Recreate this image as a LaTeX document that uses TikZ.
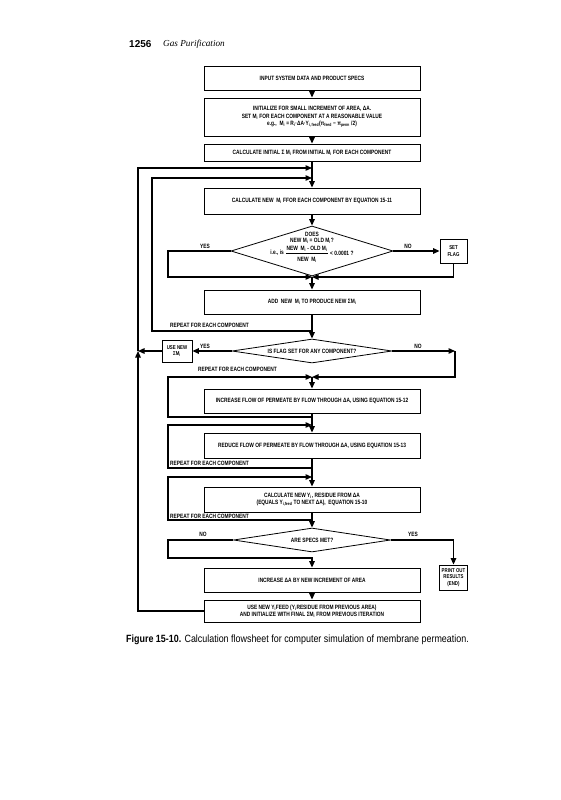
\documentclass[tikz,border=0pt]{standalone}
\usepackage{fontspec}
\setmainfont{Liberation Sans}
\newfontfamily\bxf[FakeStretch=0.78]{Liberation Sans}
\newfontfamily\capf[FakeStretch=0.85]{Liberation Sans}
\newfontfamily\hdserif{Liberation Serif}
\usetikzlibrary{arrows.meta,shapes.geometric}
\newcommand\bxfont{\bxf\bfseries\fontsize{6.2}{7.4}\selectfont}
\newcommand\smfont{\bxf\bfseries\fontsize{5.6}{6.6}\selectfont}
\begin{document}
\begin{tikzpicture}[x=1pt,y=-1pt,
  bx/.style={draw,line width=0.8pt,minimum width=216pt,inner sep=0pt,align=center,font=\bxfont},
  sbox/.style={draw,line width=0.8pt,inner sep=0pt,align=center,font=\smfont},
  dm/.style={draw,diamond,line width=0.8pt,inner sep=0pt},
  tx/.style={inner sep=0pt,font=\bxfont,align=center},
  flow/.style={line width=1.3pt},
  arr/.style={-{Triangle[length=6.5pt,width=5.5pt]}}]
\useasboundingbox (0,0) rectangle (561,800);
% header
\node[anchor=west,inner sep=0pt,font=\bfseries\fontsize{10}{11}\selectfont] (pg) at (129,44) {1256};
\node[anchor=west,inner sep=0pt,font=\hdserif\itshape\fontsize{9.2}{10}\selectfont] (hd) at (163,44) {Gas Purification};
% boxes
\node[bx,minimum height=24pt] (b1) at (312,78) {INPUT SYSTEM DATA AND PRODUCT SPECS};
\node[bx,minimum height=38pt] (b2) at (312,117) {INITIALIZE FOR SMALL INCREMENT OF AREA, ΔA.\\SET M\textsubscript{i} FOR EACH COMPONENT AT A REASONABLE VALUE\\e.g.,\ \ M\textsubscript{i} = R\textsubscript{i}·ΔA·Y\textsubscript{i, feed}(π\textsubscript{feed} − π\textsubscript{perm} /2)};
\node[bx,minimum height=17pt] (b3) at (312,152.5) {CALCULATE INITIAL Σ M\textsubscript{i} FROM INITIAL M\textsubscript{i} FOR EACH COMPONENT};
\node[bx,minimum height=26pt] (b4) at (312,201) {CALCULATE NEW\ \ M\textsubscript{i} FFOR EACH COMPONENT BY EQUATION 15-11};
% diamond 1
\node[dm,minimum width=162pt,minimum height=50pt] (d1) at (312,251) {};
\node[tx] (d1a) at (312,234) {DOES};
\node[tx] (d1b) at (312,241) {NEW M\textsubscript{i} = OLD M\textsubscript{i}?};
\node[tx,anchor=east] (d1ie) at (284,253) {i.e., is};
\node[tx] (d1num) at (307,249) {NEW\ \ M\textsubscript{i} - OLD M\textsubscript{i}};
\node[tx] (d1den) at (307,259.5) {NEW\ \ M\textsubscript{i}};
\draw[line width=0.5pt] ([yshift=-1.3pt]d1num.south west) -- ([yshift=-1.3pt]d1num.south east);
\node[tx,anchor=west] (d1lt) at (330,253) {< 0.0001 ?};
\node[tx] (yes1) at (205,246) {YES};
\node[tx] (no1) at (408,246) {NO};
\node[sbox,minimum width=27pt,minimum height=24pt] (flag) at (453.5,251) {SET\\FLAG};
\node[bx,minimum height=24pt] (b5) at (312,302) {ADD\ \ NEW\ \ M\textsubscript{i} TO PRODUCE NEW ΣM\textsubscript{i}};
\node[tx,anchor=west] (r1) at (170,325) {REPEAT FOR EACH COMPONENT};
% diamond 2
\node[dm,minimum width=160pt,minimum height=24pt] (d2) at (312,351) {};
\node[tx] (d2t) at (312,351) {IS FLAG SET FOR ANY COMPONENT?};
\node[sbox,minimum width=30pt,minimum height=22pt] (usem) at (177,351) {USE NEW\\ΣM\textsubscript{i}};
\node[tx] (yes2) at (205,346) {YES};
\node[tx] (no2) at (418,346) {NO};
\node[tx,anchor=west] (r2) at (198,369) {REPEAT FOR EACH COMPONENT};
\node[bx,minimum height=24pt] (b6) at (312,401) {INCREASE FLOW OF PERMEATE BY FLOW THROUGH ΔA, USING EQUATION 15-12};
\node[bx,minimum height=25pt] (b7) at (312,445.5) {REDUCE FLOW OF PERMEATE BY FLOW THROUGH ΔA, USING EQUATION 15-13};
\node[tx,anchor=west] (r3) at (170,463) {REPEAT FOR EACH COMPONENT};
\node[bx,minimum height=25pt] (b8) at (312,499.5) {CALCULATE NEW Y\textsubscript{i}, RESIDUE FROM ΔA\\(EQUALS Y\textsubscript{i,feed} TO NEXT ΔA),\ \ EQUATION 15-10};
\node[tx,anchor=west] (r4) at (170,516) {REPEAT FOR EACH COMPONENT};
% diamond 3
\node[dm,minimum width=157pt,minimum height=24pt] (d3) at (312,540) {};
\node[tx] (d3t) at (312,540) {ARE SPECS MET?};
\node[tx] (no3) at (203,534) {NO};
\node[tx] (yes3) at (413,534) {YES};
\node[sbox,minimum width=28pt,minimum height=25pt] (print) at (453.5,577.5) {PRINT OUT\\RESULTS\\(END)};
\node[bx,minimum height=24pt] (b9) at (312,580) {INCREASE ΔA BY NEW INCREMENT OF AREA};
\node[bx,minimum height=22pt] (b10) at (312,611) {USE NEW Y\textsubscript{i}FEED (Y\textsubscript{i}RESIDUE FROM PREVIOUS AREA)\\AND INITIALIZE WITH FINAL ΣM\textsubscript{i} FROM PREVIOUS ITERATION};
% caption
\node[anchor=west,inner sep=0pt,font=\capf\fontsize{10.5}{12}\selectfont] (cap) at (126,640) {\textbf{Figure 15-10.} Calculation flowsheet for computer simulation of membrane permeation.};
% coordinates
\coordinate (o1) at (138,168); \coordinate (o2) at (312,168); \coordinate (o3) at (138,351);
\coordinate (l2a) at (312,331); \coordinate (l2b) at (152,331); \coordinate (l2c) at (152,178); \coordinate (l2d) at (312,178);
\coordinate (y1) at (168,277); \coordinate (j1) at (312,277);
\coordinate (n2) at (455,351); \coordinate (j2) at (312,377);
\coordinate (l3a) at (312,417); \coordinate (l3b) at (168,417); \coordinate (l3c) at (168,377);
\coordinate (l4a) at (312,468); \coordinate (l4b) at (168,468); \coordinate (l4c) at (168,425); \coordinate (l4d) at (312,425);
\coordinate (l5a) at (312,520); \coordinate (l5b) at (168,520); \coordinate (l5c) at (168,477); \coordinate (l5d) at (312,477);
\coordinate (n3a) at (168,558); \coordinate (n3b) at (312,558);
\coordinate (y3) at (453.5,540);
% connectors
\draw[flow,arr] (b1) -- (b2);
\draw[flow,arr] (b2) -- (b3);
\draw[flow,arr] (b3) -- (b4);
\draw[flow,arr] (b4) -- (d1);
\draw[flow,arr] (d1.east) -- (flag.west);
\draw[flow,arr] (d1.west) -| (y1) -- (j1);
\draw[flow,arr] (flag.south) |- (j1);
\draw[flow,arr] (j1) -- (b5);
\draw[flow,arr] (b5) -- (d2);
\draw[flow,arr] (l2a) -- (l2b) -- (l2c) -- (l2d);
\draw[flow,arr] (b10.west) -| (o3);
\draw[flow,arr] (o3) -- (o1) -- (o2);
\draw[flow,arr] (d2.west) -- (usem.east);
\draw[flow,arr] (usem.west) -- (o3);
\draw[flow,arr] (d2.east) -- (n2);
\draw[flow,arr] (n2) |- (j2);
\draw[flow,arr] (l3a) -- (l3b) -- (l3c) -- (j2);
\draw[flow,arr] (j2) -- (b6);
\draw[flow,arr] (b6) -- (b7);
\draw[flow,arr] (l4a) -- (l4b) -- (l4c) -- (l4d);
\draw[flow,arr] (b7) -- (b8);
\draw[flow,arr] (l5a) -- (l5b) -- (l5c) -- (l5d);
\draw[flow,arr] (b8) -- (d3);
\draw[flow,arr] (d3.west) -| (n3a) -- (n3b) -- (b9);
\draw[flow,arr] (d3.east) -- (y3) -- (print);
\draw[flow,arr] (b9) -- (b10);
\end{tikzpicture}
\end{document}
